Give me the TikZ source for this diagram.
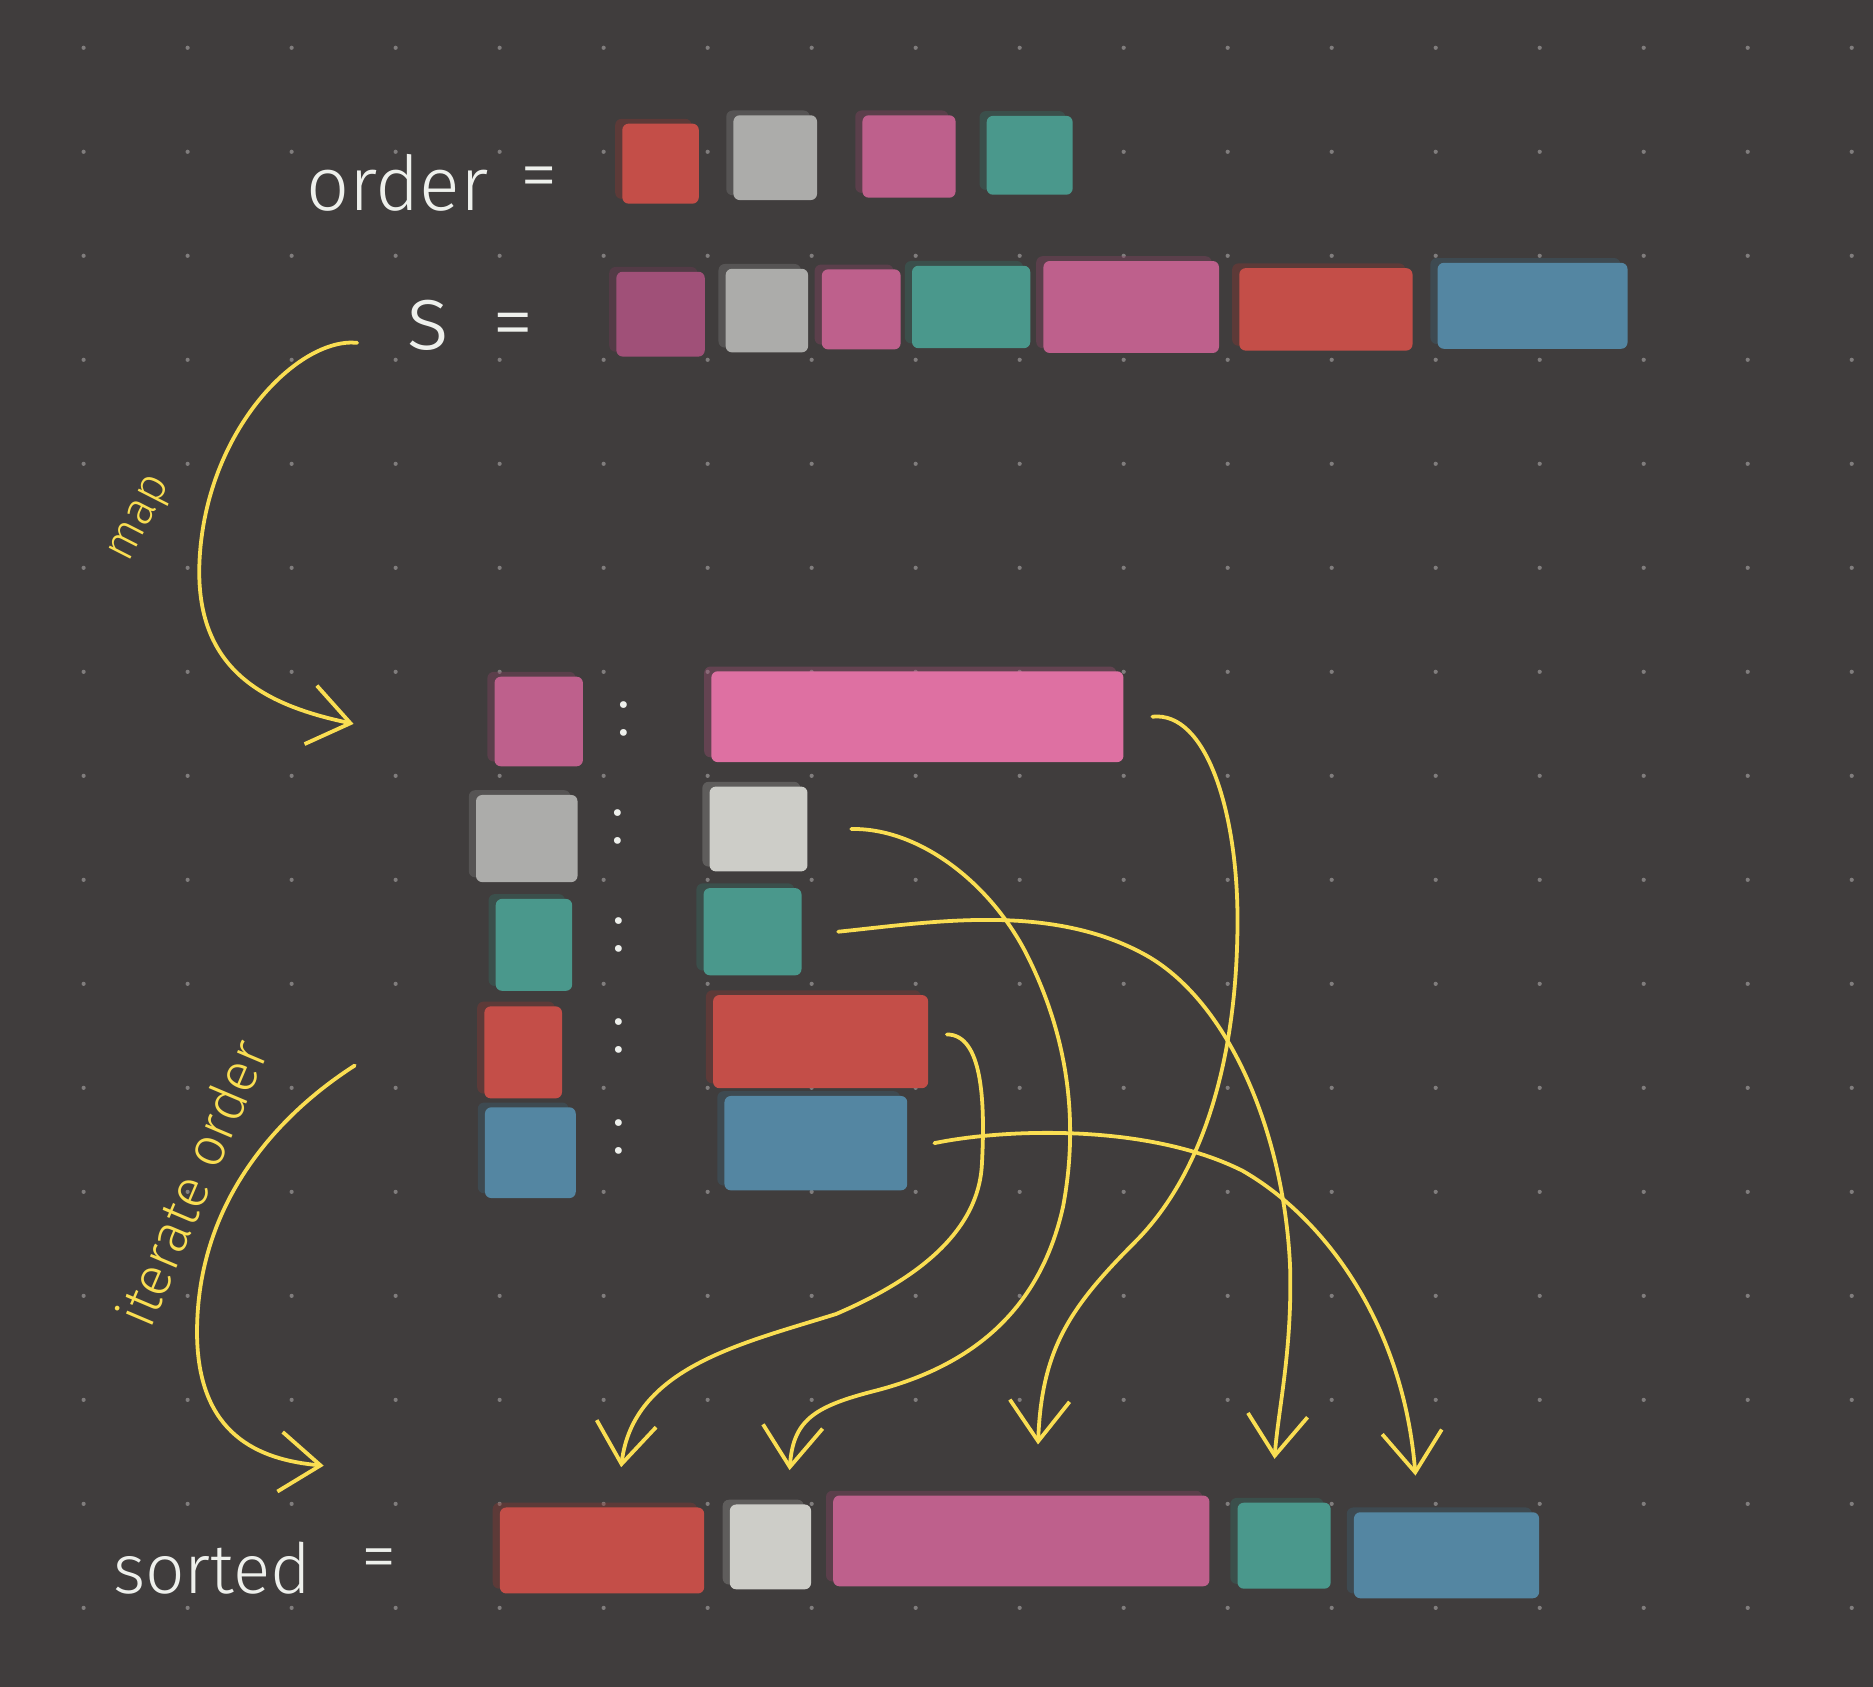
\documentclass[tikz,border=0pt]{standalone}
\usepackage{fontspec}
\newfontfamily\hand{Fira Sans Light}
\usetikzlibrary{arrows.meta, shadows}

\definecolor{bg}{RGB}{64,61,61}
\definecolor{griddot}{RGB}{128,125,125}
\definecolor{cred}{RGB}{196,78,72}
\definecolor{cgray}{RGB}{172,172,170}
\definecolor{cgraylt}{RGB}{205,205,200}
\definecolor{cpink}{RGB}{190,96,140}
\definecolor{cpinkdk}{RGB}{160,80,120}
\definecolor{cpinklt}{RGB}{222,112,162}
\definecolor{cteal}{RGB}{74,152,140}
\definecolor{cblue}{RGB}{84,134,162}
\definecolor{chalk}{RGB}{238,240,236}
\definecolor{marker}{RGB}{250,222,82}

\tikzset{
  blk/.style={inner sep=0pt, rounded corners=1.5pt, fill=#1,
      general shadow={fill=#1!70!black, opacity=.4, shadow xshift=-.6mm, shadow yshift=.4mm}},
  sz/.style 2 args={minimum width=#1*0.01cm, minimum height=#2*0.01cm},
  chalk text/.style={text=chalk, inner sep=0pt, font=\hand\fontsize{#1}{#1}\selectfont},
  marker text/.style={text=marker, inner sep=0pt, font=\hand\fontsize{#1}{#1}\selectfont},
  link/.style={draw=marker, line width=0.9pt, line cap=round,
      -{Straight Barb[length=3.4mm, width=5mm]}}
}

\begin{document}
\begin{tikzpicture}[x=0.01cm, y=-0.01cm]
  \useasboundingbox (0,0) rectangle (1568,1412);
  \fill[bg] (0,0) rectangle (1568,1412);

  % Dot grid
  \foreach \i in {0,...,17}
    \foreach \j in {0,...,15}
      \fill[griddot] (70+87.07*\i, 40+87.07*\j) circle (0.5pt);

  % Labels
  \node (lbl-order) [chalk text=18, anchor=base west] at (256,176) {order};
  \node (eq-order) [chalk text=18] at (451,154) {=};
  \node (lbl-s) [chalk text=22, anchor=base west] at (340,293) {s};
  \node (eq-s) [chalk text=20] at (430,278) {=};
  \node (lbl-sorted) [chalk text=16.5, anchor=base west] at (94,1334) {sorted};
  \node (eq-sorted) [chalk text=17] at (317,1310) {=};
  \node (lbl-map) [marker text=11, rotate=63] at (119,435) {map};
  \node (lbl-iter) [marker text=13, rotate=67] at (160,990) {iterate order};

  % Order row
  \node (o1) [blk=cred, sz={64}{67}] at (553,137) {};
  \node (o2) [blk=cgray, sz={70}{71}] at (649,132) {};
  \node (o3) [blk=cpink, sz={78}{69}] at (761,131) {};
  \node (o4) [blk=cteal, sz={72}{66}] at (862,130) {};

  % s row
  \node (s1) [blk=cpinkdk, sz={74}{71}] at (553,263) {};
  \node (s2) [blk=cgray, sz={69}{70}] at (642,260) {};
  \node (s3) [blk=cpink, sz={66}{67}] at (721,259) {};
  \node (s4) [blk=cteal, sz={99}{69}] at (813,257) {};
  \node (s5) [blk=cpink, sz={147}{77}] at (947,257) {};
  \node (s6) [blk=cred, sz={145}{69}] at (1110,259) {};
  \node (s7) [blk=cblue, sz={159}{72}] at (1283,256) {};

  % Map keys
  \node (k1) [blk=cpink, sz={74}{75}] at (451,604) {};
  \node (k2) [blk=cgray, sz={85}{73}] at (441,702) {};
  \node (k3) [blk=cteal, sz={64}{77}] at (447,791) {};
  \node (k4) [blk=cred, sz={65}{77}] at (438,881) {};
  \node (k5) [blk=cblue, sz={76}{76}] at (444,965) {};

  % Colons
  \node (c1) [chalk text=17] at (522,602) {:};
  \node (c2) [chalk text=17] at (517,692) {:};
  \node (c3) [chalk text=17] at (518,783) {:};
  \node (c4) [chalk text=17] at (518,867) {:};
  \node (c5) [chalk text=17] at (518,952) {:};

  % Map values
  \node (v1) [blk=cpinklt, sz={345}{76}] at (768,600) {};
  \node (v2) [blk=cgraylt, sz={82}{71}] at (635,694) {};
  \node (v3) [blk=cteal, sz={82}{73}] at (630,780) {};
  \node (v4) [blk=cred, sz={180}{78}] at (687,872) {};
  \node (v5) [blk=cblue, sz={153}{79}] at (683,957) {};

  % Sorted row
  \node (r1) [blk=cred, sz={171}{72}] at (504,1298) {};
  \node (r2) [blk=cgraylt, sz={68}{71}] at (645,1295) {};
  \node (r3) [blk=cpink, sz={315}{76}] at (855,1290) {};
  \node (r4) [blk=cteal, sz={78}{72}] at (1075,1294) {};
  \node (r5) [blk=cblue, sz={155}{72}] at (1211,1302) {};

  % Side arrows
  \coordinate (map-from) at (299,287);
  \coordinate (map-to) at (296,606);
  \coordinate (iter-from) at (297,892);
  \coordinate (iter-to) at (271,1227);
  \draw [link] (map-from) .. controls (250,282) and (172,360) .. (167,470)
      .. controls (163,560) and (220,590) .. (map-to);
  \draw [link] (iter-from) .. controls (230,935) and (163,1010) .. (165,1120)
      .. controls (167,1200) and (215,1222) .. (iter-to);

  % Links
  \draw [link] ([xshift=.15cm, yshift=.06cm]v4.east) .. controls (822,866) and (825,920) .. (822,975)
      .. controls (819,1030) and (770,1070) .. (700,1100)
      .. controls (620,1125) and (530,1145) .. ([xshift=.16cm, yshift=.33cm]r1.north);
  \draw [link] ([xshift=.36cm]v2.east) .. controls (770,693) and (830,740) .. (860,800)
      .. controls (890,860) and (905,930) .. (890,1010)
      .. controls (870,1100) and (810,1145) .. (730,1165)
      .. controls (680,1178) and (664,1190) .. ([xshift=.16cm, yshift=.28cm]r2.north);
  \draw [link] ([xshift=.235cm]v1.east) .. controls (1010,595) and (1036,680) .. (1036,770)
      .. controls (1036,880) and (1010,980) .. (950,1040)
      .. controls (895,1095) and (872,1130) .. ([xshift=.14cm, yshift=.42cm]r3.north);
  \draw [link] ([xshift=.30cm]v3.east) .. controls (780,772) and (880,755) .. (960,800)
      .. controls (1030,840) and (1075,950) .. (1080,1060)
      .. controls (1082,1130) and (1070,1180) .. ([xshift=-.08cm, yshift=.36cm]r4.north);
  \draw [link] ([xshift=.22cm]v5.east) .. controls (840,945) and (960,940) .. (1040,980)
      .. controls (1110,1020) and (1175,1110) .. ([xshift=-.26cm, yshift=.30cm]r5.north);
\end{tikzpicture}
\end{document}
